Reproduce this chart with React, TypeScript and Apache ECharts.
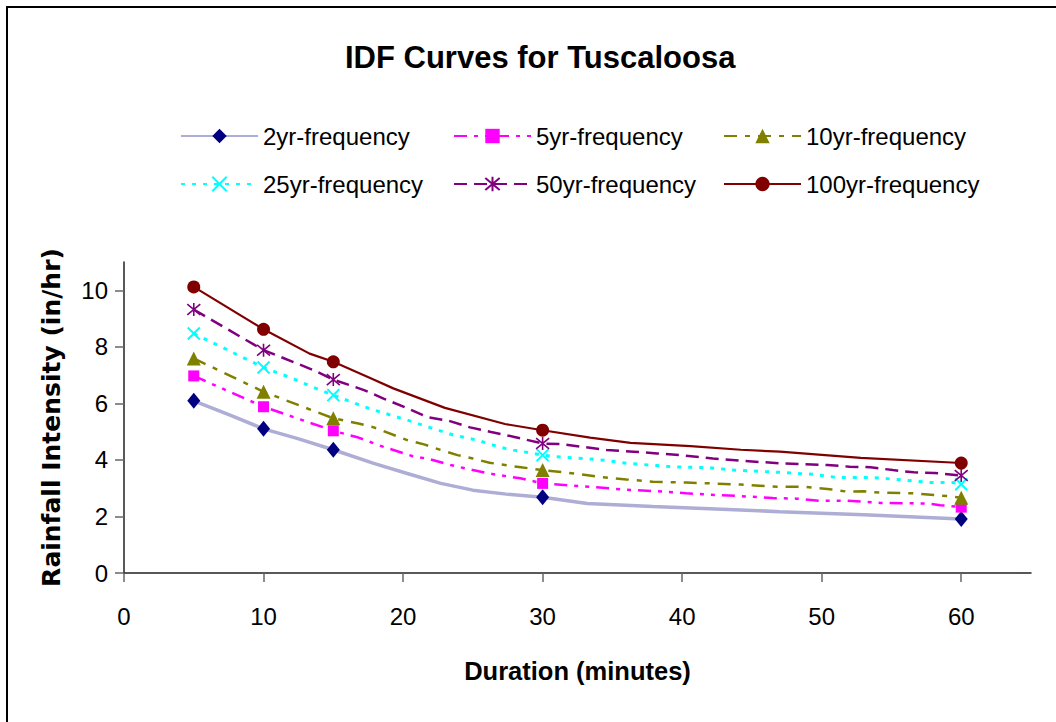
import React, { useEffect, useRef } from "react";
import * as echarts from "echarts";

// ---- data ----
const seriesNames = [
  "2yr-frequency",
  "5yr-frequency",
  "10yr-frequency",
  "25yr-frequency",
  "50yr-frequency",
  "100yr-frequency",
];
const markerDurations = [5, 10, 15, 30, 60];
const xTicks = [0, 10, 20, 30, 40, 50, 60];
const yTicks = [0, 2, 4, 6, 8, 10];

const dur2 = [5, 7.6, 10, 12.4, 15, 17.9, 20.3, 22.7, 25, 27.4, 30, 33.2, 37.9, 44.2, 47, 53, 60];
const int2 = [6.09, 5.58, 5.1, 4.76, 4.36, 3.88, 3.52, 3.17, 2.93, 2.79, 2.68, 2.46, 2.35, 2.23, 2.17, 2.06, 1.91];

const dur5 = [5, 10, 15, 16.8, 18.6, 20.7, 21.9, 23.4, 25, 26.4, 28.4, 30, 33.4, 35.6, 38.9, 40.3, 42, 44.2, 46.5, 48.2, 49.9, 51.8, 54.2, 57.5, 58.5, 60];
const int5 = [6.97, 5.88, 5.03, 4.79, 4.46, 4.13, 4.03, 3.82, 3.64, 3.5, 3.35, 3.17, 3.05, 2.96, 2.87, 2.82, 2.77, 2.72, 2.65, 2.63, 2.55, 2.56, 2.48, 2.46, 2.4, 2.33];

const dur10 = [5, 10, 15, 16.8, 17.9, 20.3, 21.5, 22.7, 23.9, 25, 26.2, 27.7, 28.6, 30, 31.6, 34.1, 36, 37.9, 40.3, 42, 44.2, 46.8, 48.7, 50.6, 51.8, 53, 54.2, 56.6, 59, 60];
const int10 = [7.59, 6.41, 5.47, 5.29, 5.15, 4.7, 4.55, 4.35, 4.17, 4.05, 3.9, 3.79, 3.73, 3.64, 3.56, 3.4, 3.31, 3.23, 3.2, 3.17, 3.13, 3.05, 3.05, 2.96, 2.88, 2.89, 2.84, 2.82, 2.72, 2.66];

const dur25 = [5, 10, 12.1, 13.6, 15, 16.9, 17.8, 20.3, 21.9, 23.6, 25.3, 27, 27.9, 30, 31, 33.4, 34.4, 36, 38.2, 39.4, 41.8, 43.7, 47, 49.4, 51.1, 53.5, 55.4, 57.8, 59.4, 60];
const int25 = [8.47, 7.27, 6.88, 6.56, 6.29, 5.94, 5.78, 5.41, 5.15, 4.88, 4.7, 4.44, 4.35, 4.17, 4.11, 4.03, 3.99, 3.88, 3.8, 3.75, 3.73, 3.64, 3.56, 3.49, 3.38, 3.38, 3.31, 3.2, 3.2, 3.14];

const dur50 = [5, 10, 12.1, 13.6, 15, 17.2, 18.6, 20.2, 21.7, 23.3, 24.8, 26.3, 27.9, 30, 31.3, 34.6, 36.5, 38.2, 39.9, 42.2, 44.2, 47, 50.4, 52, 53.5, 55.1, 56.6, 58.1, 60];
const int50 = [9.32, 7.88, 7.47, 7.17, 6.84, 6.47, 6.17, 5.85, 5.52, 5.38, 5.15, 4.99, 4.82, 4.58, 4.56, 4.35, 4.29, 4.23, 4.17, 4.05, 3.97, 3.88, 3.82, 3.76, 3.74, 3.64, 3.56, 3.54, 3.45];

const dur100 = [5, 10, 13.3, 15, 17.8, 19.3, 23, 27.3, 30, 33.4, 36.3, 40.6, 44.2, 47, 52.8, 60];
const int100 = [10.12, 8.62, 7.76, 7.47, 6.86, 6.53, 5.84, 5.27, 5.05, 4.79, 4.6, 4.49, 4.36, 4.29, 4.07, 3.89];

// ---- styling ----
const ARIAL = "'Liberation Sans', Arial, sans-serif";
const X_PATH = "path://M0,0L10,10M10,0L0,10";
const STAR_PATH = "path://M0,0L10,10M10,0L0,10M5,-1L5,11";

function buildData(d: number[], v: number[]) {
  return d.map((x, i) =>
    markerDurations.includes(x) ? [x, v[i]] : { value: [x, v[i]], symbol: "none" }
  );
}

const seriesStyles = [
  { dur: dur2, val: int2, line: "#ADADD6", width: 3.5, type: "solid" as any, symbol: "diamond", size: [13, 16], color: "#000080", border: 0 },
  { dur: dur5, val: int5, line: "#FF00FF", width: 2.5, type: [13, 7, 4, 7, 4, 7], symbol: "rect", size: 11, color: "#FF00FF", border: 0 },
  { dur: dur10, val: int10, line: "#808000", width: 2.5, type: [13, 8, 5, 8], symbol: "triangle", size: 14, color: "#808000", border: 0 },
  { dur: dur25, val: int25, line: "#00FFFF", width: 3, type: [4, 7], symbol: X_PATH, size: 12, color: "#00FFFF", border: 2 },
  { dur: dur50, val: int50, line: "#800080", width: 2.5, type: [13, 7], symbol: STAR_PATH, size: 13, color: "#800080", border: 1.6 },
  { dur: dur100, val: int100, line: "#800000", width: 2.2, type: "solid" as any, symbol: "circle", size: 13, color: "#800000", border: 0 },
];

export default function App() {
  const ref = useRef<HTMLDivElement>(null);

  useEffect(() => {
    if (!ref.current) return;
    const chart = echarts.init(ref.current, undefined, { renderer: "svg" });

    const series = seriesStyles.map((s, i) => ({
      name: seriesNames[i],
      type: "line",
      data: buildData(s.dur, s.val),
      symbol: s.symbol,
      symbolSize: s.size,
      showAllSymbol: true,
      lineStyle: { color: s.line, width: s.width, type: s.type },
      itemStyle: {
        color: s.color,
        borderColor: s.color,
        borderWidth: s.border,
      },
      emphasis: { disabled: true },
      silent: true,
      z: 2 + i,
    }));

    const legendBase = {
      orient: "vertical",
      top: 116,
      itemWidth: 77,
      itemHeight: 18,
      itemGap: 18,
      selectedMode: false,
      textStyle: { fontSize: 24, fontFamily: ARIAL, color: "#000", lineHeight: 30 },
    };

    chart.setOption({
      animation: false,
      backgroundColor: "#fff",
      title: {
        text: "IDF Curves for Tuscaloosa",
        left: 340,
        top: 37,
        textStyle: { fontSize: 31, fontWeight: "bold", fontFamily: ARIAL, color: "#000" },
      },
      legend: [
        { ...legendBase, left: 175, data: [seriesNames[0], seriesNames[3]] },
        { ...legendBase, left: 448, data: [seriesNames[1], seriesNames[4]] },
        { ...legendBase, left: 718, data: [seriesNames[2], seriesNames[5]] },
      ],
      grid: { left: 124, top: 262, width: 907, height: 311, containLabel: false },
      xAxis: {
        type: "value",
        min: 0,
        max: 65,
        interval: 10,
        name: "Duration (minutes)",
        nameLocation: "middle",
        nameGap: 85,
        nameTextStyle: { fontSize: 25.5, fontWeight: "bold", fontFamily: ARIAL, color: "#000" },
        axisLine: { lineStyle: { color: "#222", width: 1.5 } },
        axisTick: { show: true, length: 9, customValues: xTicks, lineStyle: { color: "#666", width: 1.5 } },
        axisLabel: { customValues: xTicks, fontSize: 24, fontFamily: ARIAL, color: "#000", margin: 31 },
        splitLine: { show: false },
      },
      yAxis: {
        type: "value",
        min: 0,
        max: 11,
        interval: 2,
        name: "Rainfall Intensity (in/hr)",
        nameLocation: "middle",
        nameGap: 60,
        nameTextStyle: { fontSize: 25, fontWeight: "bold", fontFamily: "'DejaVu Sans', sans-serif", color: "#000" },
        axisLine: { show: true, lineStyle: { color: "#222", width: 1.5 } },
        axisTick: { show: true, length: 9, customValues: yTicks, lineStyle: { color: "#666", width: 1.5 } },
        axisLabel: { customValues: yTicks, fontSize: 24, fontFamily: ARIAL, color: "#000", margin: 16 },
        splitLine: { show: false },
      },
      graphic: [
        {
          type: "rect",
          shape: { x: 7, y: 7, width: 1200, height: 900 },
          style: { fill: "none", stroke: "#000", lineWidth: 2 },
          silent: true,
          z: -1,
        },
      ],
      series,
    });

    return () => chart.dispose();
  }, []);

  return (
    <div
      ref={ref}
      style={{ position: "fixed", left: 0, top: 0, width: 1056, height: 722 }}
    />
  );
}
